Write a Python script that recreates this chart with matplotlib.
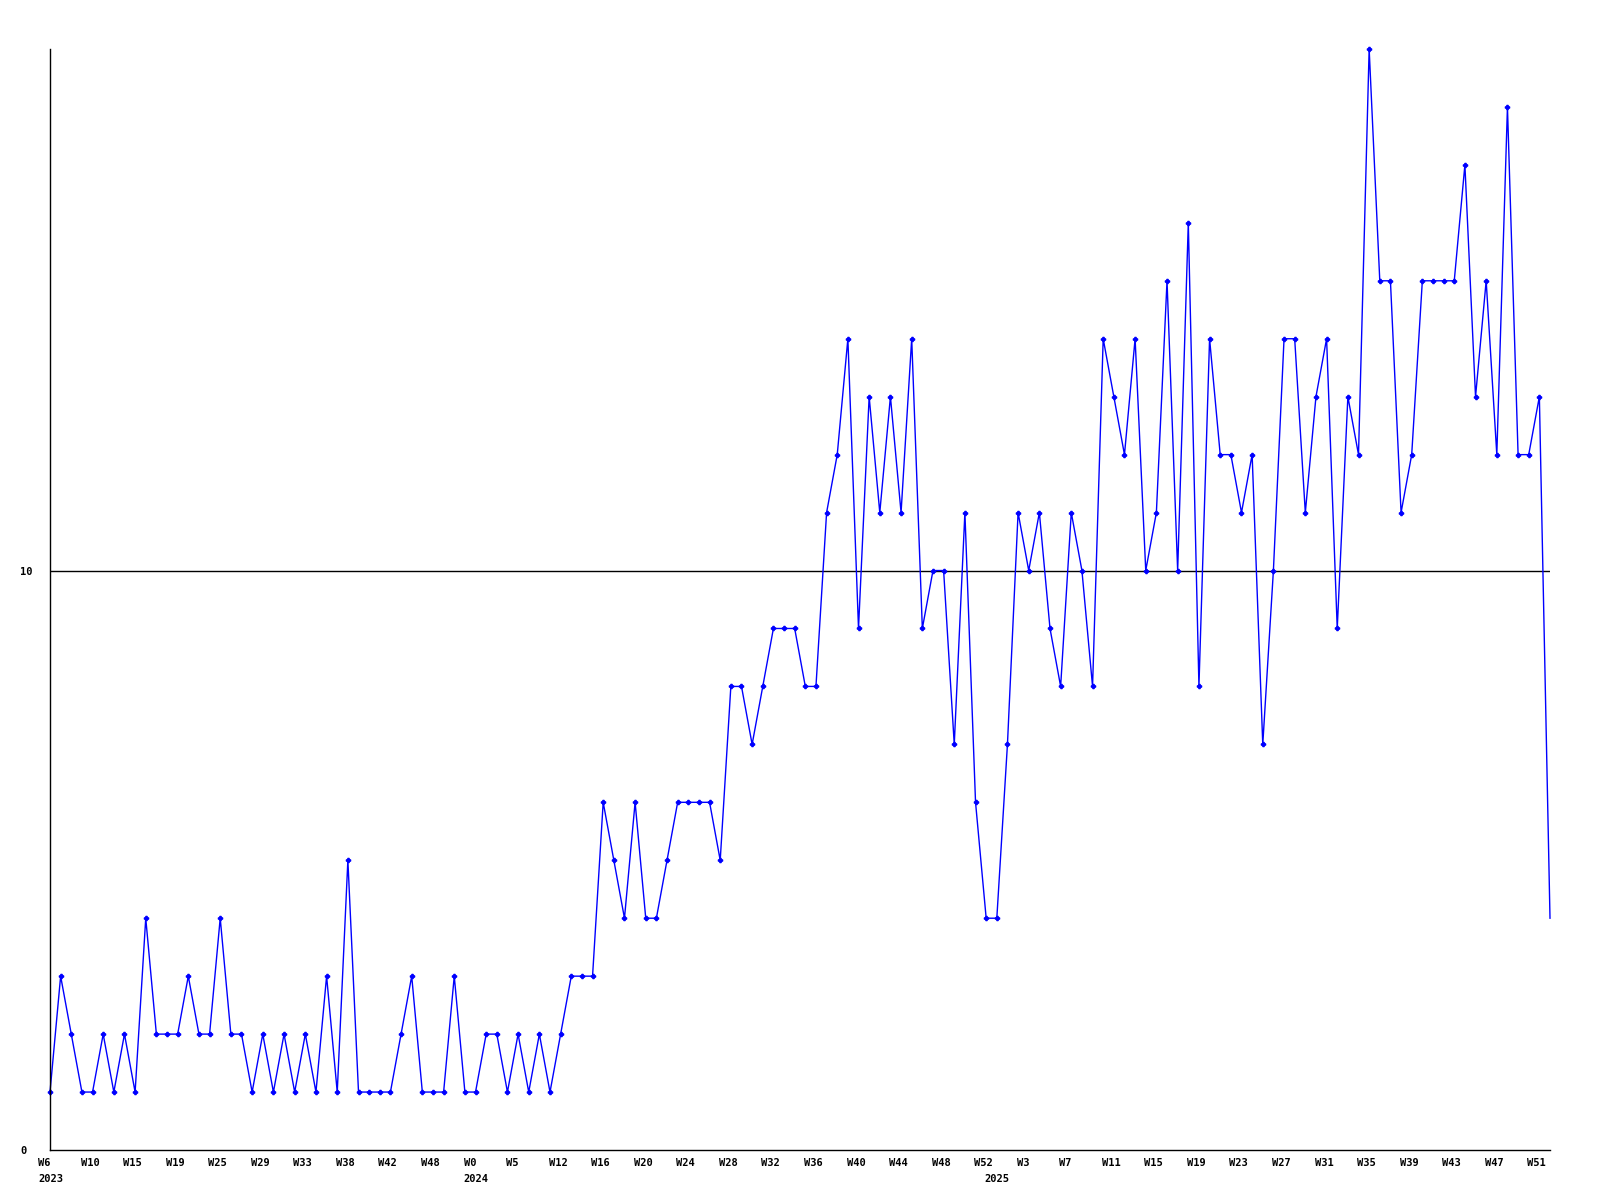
import matplotlib
matplotlib.use('Agg')
import matplotlib.pyplot as plt
import matplotlib.transforms as mtransforms

# weekly counts, one value per data point
values = [1, 3, 2, 1, 1, 2, 1, 2, 1, 4, 2, 2, 2, 3, 2, 2, 4, 2, 2, 1, 2, 1, 2, 1, 2,
          1, 3, 1, 5, 1, 1, 1, 1, 2, 3, 1, 1, 1, 3, 1, 1, 2, 2, 1, 2, 1, 2, 1, 2, 3,
          3, 3, 6, 5, 4, 6, 4, 4, 5, 6, 6, 6, 6, 5, 8, 8, 7, 8, 9, 9, 9, 8, 8,
          11, 12, 14, 9, 13, 11, 13, 11, 14, 9, 10, 10, 7, 11, 6, 4, 4, 7, 11, 10, 11, 9, 8, 11,
          10, 8, 14, 13, 12, 14, 10, 11, 15, 10, 16, 8, 14, 12, 12, 11, 12, 7, 10, 14, 14, 11, 13, 14,
          9, 13, 12, 19, 15, 15, 11, 12, 15, 15, 15, 15, 17, 13, 15, 12, 18, 12, 12, 13, 4]

# one week label every 4th point
week_labels = ['W6', 'W10', 'W15', 'W19', 'W25', 'W29', 'W33', 'W38', 'W42', 'W48',
               'W0', 'W5', 'W12', 'W16', 'W20', 'W24', 'W28', 'W32', 'W36', 'W40',
               'W44', 'W48', 'W52', 'W3', 'W7', 'W11', 'W15', 'W19', 'W23', 'W27',
               'W31', 'W35', 'W39', 'W43', 'W47', 'W51']
label_step = 4

# year label sits under the first point of that year
years = ['2023', '2024', '2025']
year_start = [0, 40, 89]

y_ticks = [0, 10]
y_max = 19

fig = plt.figure(figsize=(16, 12), dpi=100)
ax = fig.add_axes([50 / 1600, 50 / 1200, 1500 / 1600, 1101 / 1200])

x = list(range(len(values)))
ax.axhline(10, color='black', lw=1, zorder=1)
ax.plot(x, values, color='#0000ff', lw=1, marker='P', markersize=3,
        markevery=slice(0, len(values) - 1), zorder=2, clip_on=False)

ax.set_xlim(0, len(values) - 1)
ax.set_ylim(0, y_max)

for s in ['top', 'right']:
    ax.spines[s].set_visible(False)
for s in ['left', 'bottom']:
    ax.spines[s].set_linewidth(1)
    ax.spines[s].set_color('black')

font = dict(family='DejaVu Sans Mono', weight='bold', size=7.5)

# keep year labels even where they fall on a week tick
ax.xaxis.remove_overlapping_locs = False
ax.set_xticks([k * label_step for k in range(len(week_labels))])
ax.set_xticklabels(week_labels, fontdict=font)
ax.set_xticks(year_start, minor=True)
ax.set_xticklabels(years, minor=True, fontdict=font)
ax.tick_params(axis='x', which='major', length=0, pad=6)
ax.tick_params(axis='x', which='minor', length=0, pad=17)

shift = mtransforms.ScaledTranslation(-12 / 100, 0, fig.dpi_scale_trans)
for lab in ax.get_xticklabels() + ax.get_xticklabels(minor=True):
    lab.set_ha('left')
    lab.set_transform(lab.get_transform() + shift)

ax.set_yticks(y_ticks)
ax.set_yticklabels([str(v) for v in y_ticks], fontdict=font)
ax.tick_params(axis='y', length=0, pad=21.6)
for lab in ax.get_yticklabels():
    lab.set_ha('left')

fig.savefig('out.png', dpi=100, facecolor='white')
